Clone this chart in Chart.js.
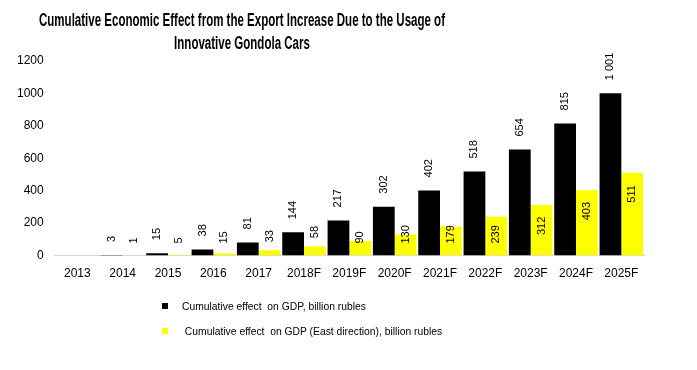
<!DOCTYPE html>
<html>
<head>
<meta charset="utf-8">
<script src="https://cdn.jsdelivr.net/npm/chart.js@4.4.1/dist/chart.umd.min.js"></script>
<style>
  html, body { margin: 0; padding: 0; background: #fff; }
  #wrap { position: relative; width: 697px; height: 370px; overflow: hidden; }
  #title {
    position: absolute; top: 9px; left: 242px;
    font: bold 18px "Liberation Sans Narrow", "Liberation Sans", Arial, sans-serif;
    line-height: 23px; text-align: center; white-space: nowrap; color: #000;
  }
  #legend {
    position: absolute; left: 162px; top: 298px;
    font: 11px "Liberation Sans Narrow", "Liberation Sans", Arial, sans-serif;
    color: #000;
  }
  .row { position: relative; height: 25px; white-space: nowrap; }
  .box { position: absolute; left: 0; top: 5px; width: 6px; height: 6px; }
  .txt { position: absolute; top: 2px; display: inline-block; transform-origin: left center; }
</style>
</head>
<body>
<div id="wrap">
  <canvas id="chart" width="697" height="370"></canvas>
  <div id="title"><span id="t1">Cumulative Economic Effect from the Export Increase Due to the Usage of</span><br><span>Innovative Gondola Cars</span></div>
  <div id="legend"></div>
</div>
<script>
const years = ['2013', '2014', '2015', '2016', '2017', '2018F', '2019F', '2020F', '2021F', '2022F', '2023F', '2024F', '2025F'];
const gdpEffect = [null, 3, 15, 38, 81, 144, 217, 302, 402, 518, 654, 815, 1001];
const eastEffect = [null, 1, 5, 15, 33, 58, 90, 130, 179, 239, 312, 403, 511];
const seriesNames = ['Cumulative effect  on GDP, billion rubles', ' Cumulative effect  on GDP (East direction), billion rubles'];
const seriesColors = ['#000000', '#ffff00'];

Chart.defaults.font.family = '"Liberation Sans", Arial, sans-serif';
Chart.defaults.color = '#000';

function fmt(v) {
  return String(v).replace(/\B(?=(\d{3})+(?!\d))/g, ' ');
}

// rotated value labels, as in the original spreadsheet chart
const barLabels = {
  id: 'barLabels',
  afterDatasetsDraw(chart) {
    const ctx = chart.ctx;
    const base = chart.scales.y.getPixelForValue(0);
    ctx.save();
    ctx.font = '11px "Liberation Sans", Arial, sans-serif';
    ctx.fillStyle = '#000';
    ctx.textAlign = 'left';
    ctx.textBaseline = 'middle';
    chart.data.datasets.forEach((ds, i) => {
      chart.getDatasetMeta(i).data.forEach((bar, j) => {
        const v = ds.data[j];
        if (v == null) return;
        let y;
        if (i === 0) y = bar.y - 13;
        else if (v >= 90) y = Math.min(bar.y + 30, base - 12);
        else y = Math.min(bar.y - 8, base - 12);
        ctx.save();
        ctx.translate(bar.x, y);
        ctx.rotate(-Math.PI / 2);
        ctx.fillText(fmt(v), 0, 0);
        ctx.restore();
      });
    });
    ctx.restore();
  }
};

const ctx = document.getElementById('chart').getContext('2d');
const chart = new Chart(ctx, {
  type: 'bar',
  data: {
    labels: years,
    datasets: [
      { label: seriesNames[0], data: gdpEffect, backgroundColor: seriesColors[0] },
      { label: seriesNames[1], data: eastEffect, backgroundColor: seriesColors[1] }
    ]
  },
  options: {
    responsive: false,
    animation: false,
    layout: { padding: { top: 61, left: 14, right: 53, bottom: 86 } },
    datasets: { bar: { categoryPercentage: 0.96, barPercentage: 1 } },
    plugins: {
      legend: { display: false },
      title: { display: false },
      tooltip: { enabled: false }
    },
    scales: {
      x: {
        grid: { display: false },
        border: { color: '#d9d9d9' },
        ticks: { font: { size: 12 }, maxRotation: 0 }
      },
      y: {
        min: 0,
        max: 1200,
        grid: { display: false },
        border: { display: false },
        ticks: { stepSize: 200, font: { size: 12 }, callback: v => String(v) }
      }
    }
  },
  plugins: [barLabels]
});

// title: condensed, centred over the left part like the original
const title = document.getElementById('title');
const s = 406 / document.getElementById('t1').getBoundingClientRect().width;
title.style.transform = 'translateX(-50%) scaleX(' + s + ')';

// legend, one entry per row
const legend = document.getElementById('legend');
const spans = [];
chart.data.datasets.forEach((ds) => {
  const row = document.createElement('div');
  row.className = 'row';
  const box = document.createElement('span');
  box.className = 'box';
  box.style.background = ds.backgroundColor;
  const txt = document.createElement('span');
  txt.className = 'txt';
  txt.style.left = '20px';
  txt.textContent = ds.label;
  row.appendChild(box);
  row.appendChild(txt);
  legend.appendChild(row);
  spans.push(txt);
});
const ls = 181 / spans[0].getBoundingClientRect().width;
spans.forEach(t => { t.style.transform = 'scaleX(' + ls + ')'; t.style.whiteSpace = 'pre'; });
</script>
</body>
</html>
